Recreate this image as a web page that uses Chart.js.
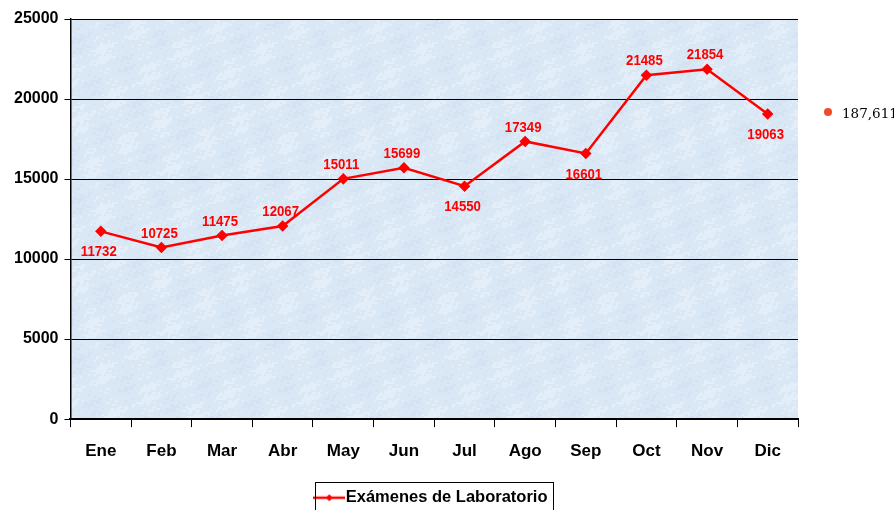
<!DOCTYPE html>
<html>
<head>
<meta charset="utf-8">
<script src="https://cdn.jsdelivr.net/npm/chart.js@4.4.1/dist/chart.umd.min.js"></script>
<style>
  html, body { margin: 0; padding: 0; background: #fff; }
  #wrap { width: 894px; height: 510px; }
</style>
</head>
<body>
<div id="wrap"><canvas id="myChart" width="894" height="510"></canvas></div>
<script>
const months = ['Ene', 'Feb', 'Mar', 'Abr', 'May', 'Jun', 'Jul', 'Ago', 'Sep', 'Oct', 'Nov', 'Dic'];
const examenes = [11732, 10725, 11475, 12067, 15011, 15699, 14550, 17349, 16601, 21485, 21854, 19063];
const yTicks = [0, 5000, 10000, 15000, 20000, 25000];
const seriesName = 'Exámenes de Laboratorio';

// where each value label sits (true = under the point)
const labelBelow = [true, false, false, false, false, false, true, false, true, false, false, true];

const total = examenes.reduce((a, b) => a + b, 0);
const FONT = '"Liberation Sans", Arial, sans-serif';

// legend symbol: red line with diamond
const sym = document.createElement('canvas');
sym.width = 32; sym.height = 10;
(function () {
  const c = sym.getContext('2d');
  c.strokeStyle = '#ff0000'; c.lineWidth = 2.5;
  c.beginPath(); c.moveTo(0, 5); c.lineTo(32, 5); c.stroke();
  c.fillStyle = '#ff0000';
  c.beginPath(); c.moveTo(16, 1.5); c.lineTo(19.5, 5); c.lineTo(16, 8.5); c.lineTo(12.5, 5); c.closePath(); c.fill();
})();

// soft mottled fill for the plot area (periodic, so it tiles without seams)
function makeTexture() {
  const N = 160, t = document.createElement('canvas');
  t.width = N; t.height = N;
  const c = t.getContext('2d');
  c.fillStyle = '#dae8f5';
  c.fillRect(0, 0, N, N);
  const k = 2 * Math.PI / N;
  for (let y = 0; y < N; y += 2) {
    for (let x = 0; x < N; x += 2) {
      const v = Math.sin(k * (3 * x + y)) * Math.cos(k * (2 * y - x)) +
                0.6 * Math.sin(k * (17 * x - 11 * y)) * Math.cos(k * (23 * y + 7 * x)) +
                0.4 * Math.cos(k * (13 * y + 5 * x));
      if (v > 0.55) { c.fillStyle = 'rgba(255,255,255,0.28)'; c.fillRect(x, y, 2, 2); }
      else if (v < -0.85) { c.fillStyle = 'rgba(195,215,238,0.3)'; c.fillRect(x, y, 2, 2); }
    }
  }
  return t;
}
const texture = makeTexture();

const bgPlugin = {
  id: 'plotBg',
  beforeDraw(chart) {
    const { ctx, chartArea: a } = chart;
    ctx.save();
    ctx.fillStyle = ctx.createPattern(texture, 'repeat');
    ctx.fillRect(a.left, a.top, a.right - a.left, a.bottom - a.top);
    ctx.restore();
    // centre the legend under the plot area and drop it a little
    const lg = chart.legend;
    if (lg && !lg._shifted) {
      const dx = (a.left + a.right) / 2 - (lg.left + lg.right) / 2;
      const dy = 6;
      lg.left += dx; lg.right += dx; lg.top += dy; lg.bottom += dy;
      (lg.legendHitBoxes || []).forEach(h => { h.left += dx; h.top += dy; });
      lg._shifted = true;
    }
  }
};

const labelPlugin = {
  id: 'valueLabels',
  afterDatasetsDraw(chart) {
    const { ctx } = chart;
    const meta = chart.getDatasetMeta(0);
    ctx.save();
    ctx.font = 'bold 15px ' + FONT;
    ctx.fillStyle = '#ff0000';
    ctx.textAlign = 'center';
    ctx.textBaseline = 'middle';
    meta.data.forEach((pt, i) => {
      const dy = labelBelow[i] ? 21 : -14;
      ctx.save();
      ctx.translate(pt.x - 2, pt.y + dy);
      ctx.scale(0.88, 1);
      ctx.fillText(String(examenes[i]), 0, 0);
      ctx.restore();
    });
    ctx.restore();
  },
  afterDraw(chart) {
    const { ctx } = chart;
    ctx.save();
    // total at the right
    ctx.fillStyle = '#f04a2a';
    ctx.beginPath(); ctx.arc(828, 112, 4, 0, Math.PI * 2); ctx.fill();
    ctx.fillStyle = '#000';
    ctx.font = '13.5px "DejaVu Serif", "Liberation Serif", serif';
    ctx.textBaseline = 'middle';
    ctx.textAlign = 'left';
    ctx.fillText(total.toLocaleString('en-US'), 842, 114);
    // legend frame
    const lg = chart.legend;
    if (lg && lg.legendHitBoxes && lg.legendHitBoxes.length) {
      const hb = lg.legendHitBoxes[0];
      ctx.strokeStyle = '#000';
      ctx.lineWidth = 1;
      ctx.strokeRect(Math.round(hb.left) - 5.5, Math.round(hb.top) - 7.5, Math.round(hb.width) + 12, 40);
    }
    ctx.restore();
  }
};

new Chart(document.getElementById('myChart'), {
  type: 'line',
  data: {
    labels: months,
    datasets: [{
      label: seriesName,
      data: examenes,
      borderColor: '#ff0000',
      backgroundColor: '#ff0000',
      borderWidth: 2.5,
      pointStyle: 'rectRot',
      pointRadius: 4,
      pointBackgroundColor: '#ff0000',
      pointBorderColor: '#ff0000',
      tension: 0
    }]
  },
  options: {
    responsive: false,
    animation: false,
    devicePixelRatio: 1,
    layout: { padding: { top: 19, right: 96, left: 8, bottom: 0 } },
    plugins: {
      tooltip: { enabled: false },
      legend: {
        position: 'bottom',
        labels: {
          usePointStyle: true,
          pointStyle: sym,
          color: '#000',
          font: { family: FONT, size: 16.5, weight: 'bold' },
          padding: 8
        }
      }
    },
    scales: {
      x: {
        offset: true,
        grid: { offset: true, drawOnChartArea: false, drawTicks: true, tickLength: 8, color: '#000', lineWidth: 1 },
        border: { color: '#000', width: 2 },
        ticks: { color: '#000', padding: 14, font: { family: FONT, size: 17, weight: 'bold' } }
      },
      y: {
        min: 0, max: 25000,
        afterBuildTicks(axis) { axis.ticks = yTicks.map(v => ({ value: v })); },
        grid: { color: '#000', lineWidth: 1, tickLength: 6 },
        border: { color: '#000', width: 1.5 },
        ticks: {
          color: '#000', padding: 6,
          font: { family: FONT, size: 16, weight: 'bold' },
          callback: v => String(v)
        }
      }
    }
  },
  plugins: [bgPlugin, labelPlugin]
});
</script>
</body>
</html>
